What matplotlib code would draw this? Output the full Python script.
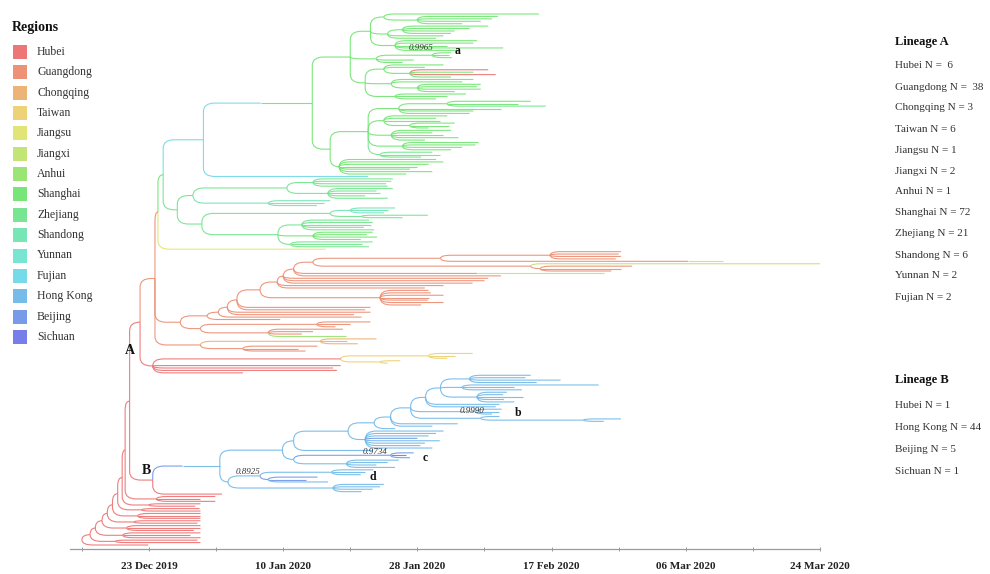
import matplotlib
matplotlib.use("Agg")
import matplotlib.pyplot as plt
from matplotlib.path import Path
from matplotlib.patches import PathPatch, Rectangle

plt.rcParams['font.family'] = ['Liberation Serif', 'DejaVu Serif']

# ---------------- legend / axis data ----------------
REGIONS = ["Hubei", "Guangdong", "Chongqing", "Taiwan", "Jiangsu", "Jiangxi", "Anhui",
           "Shanghai", "Zhejiang", "Shandong", "Yunnan", "Fujian", "Hong Kong", "Beijing", "Sichuan"]
CODES = ["HB", "GD", "CQ", "TW", "JS", "JX", "AH", "SH", "ZJ", "SD", "YN", "FJ", "HK", "BJ", "SC"]
COLORS = ["#EC7070", "#EC8C70", "#ECB070", "#ECD070", "#E0E470", "#C0E470", "#96E470",
          "#70E470", "#70E48C", "#70E4B0", "#70E4D0", "#70D8E8", "#70B8E8", "#7096E8", "#7076E8"]

TICK_DAYS = [0, 18, 36, 54, 72, 90]          # days after 23 Dec 2019
TICK_LABELS = ["23 Dec 2019", "10 Jan 2020", "28 Jan 2020", "17 Feb 2020", "06 Mar 2020", "24 Mar 2020"]
MINOR_DAYS = [-9, 9, 27, 45, 63, 81]

LINEAGE_A = ["Hubei N =  6", "Guangdong N =  38", "Chongqing N = 3", "Taiwan N = 6", "Jiangsu N = 1",
             "Jiangxi N = 2", "Anhui N = 1", "Shanghai N = 72", "Zhejiang N = 21", "Shandong N = 6",
             "Yunnan N = 2", "Fujian N = 2"]
LINEAGE_B = ["Hubei N = 1", "Hong Kong N = 44", "Beijing N = 5", "Sichuan N = 1"]

# ---------------- tree data (dates in days after 23 Dec 2019) ----------------
# internal node: [node_date, region, child, child, ...]; tip: end_date (parent region) or (region, end_date)
T1 = [29.7, "SH",
      [31.5, "SH", 52.3, [36.0, "SH", 46.8, 46.0, 44.5, 42.0]],
      [32.0, "SH", [34.0, "SH", 45.5, 43.0, 41.0, 40.5], 39.5, 38.5],
      [33.0, "SH", 44.0, 43.5, 40.0, 47.5, 41.5]]
A_SUB = [38.0, "SH", 40.5, 40.3, 40.6]
T2 = [30.5, "SH", A_SUB, 35.5, 34.0]
T3 = [29.0, "SH",
      [31.5, "SH", 39.5, 37.0, [35.0, "SH", ("HB", 45.5), 43.5, ("HB", 46.5), 40.5]],
      [32.5, "SH", 43.5, 42.0, [36.0, "SH", 44.5, 44.0, 44.5, 41.0]],
      [33.0, "SH", 42.5, 40.0, 38.5]]
GREEN_TOP = [27.0, "SH", T1, T2, T3]

M1 = [29.4, "SH",
      [33.5, "SH", [40.0, "SH", 51.2, 49.5, ("ZJ", 53.2)], 47.2, 43.5, 43.0],
      [31.5, "SH", 40.0, 38.5, 39.0, [35.0, "SH", 41.0, 40.2, 37.5]],
      [32.5, "SH", 40.5, 38.0, 39.5, 41.5, 37.0],
      [34.0, "SH", 44.2, 43.8, 42.0, 40.5],
      [31.0, "ZJ", 38.0, 39.0, 36.5]]
M2 = [25.5, "SH", 38.5, 39.5, 37.5, 36.0, 35.0, 38.0, 34.5]
GREEN_MID = [24.3, "SH", M1, M2]
N1 = [21.9, "SH", GREEN_TOP, GREEN_MID]
CYAN_NODE = [7.3, "FJ", [15.0, "FJ", N1], ("FJ", 29.4)]

LG1 = [5.9, "ZJ",
       [18.5, "ZJ", [22.0, "ZJ", 32.7, 32.5, 31.8, 32.0], [24.0, "ZJ", 32.7, 30.5, 31.0, 29.0, 32.0]],
       [16.0, "SD", 24.3, 23.5, 22.5]]
LG2 = [7.1, "ZJ",
       [24.3, "ZJ", [27.0, "SD", 33.0, 32.0, ("YN", 31.5)], [28.5, "ZJ", 37.4, 34.0]],
       [17.3, "ZJ", [20.5, "ZJ", 29.5, 30.0, 29.8, 28.8, 30.2], [22.0, "SH", 30.0, 29.2, 30.6, 28.4],
        [19.0, "ZJ", 30.0, 28.6, 29.5]]]
GREEN_ROOT = [1.9, "SH", CYAN_NODE, [3.8, "ZJ", LG1, LG2]]

GD_TOP = [22.0, "GD",
          [39.1, "GD", [53.8, "GD", 63.3, 63.0, 63.3, 62.6], [72.3, "GD", ("TW", 77.0)]],
          [51.2, "GD", ("JX", 90.2), [52.5, "GD", 64.8, 63.3, 62.0]]]
GD_SUB = [31.0, "GD", 37.5, 37.8, 39.5, 37.6, 37.4, 39.5, 36.5]
GD_L1 = [19.4, "GD", GD_TOP, [44.0, "GD", ("JX", 61.0)], 47.2]
GD_L2 = [18.0, "GD", GD_L1, 45.5, 45.0, 43.4]
GD_L3 = [17.2, "GD", GD_L2, 39.5, 37.0]
GD_L4 = [14.9, "GD", GD_L3, GD_SUB]
GD_L5 = [11.8, "GD", GD_L4, 29.7, 29.0]
GD_L6 = [10.5, "GD", GD_L5, 29.7, 27.5]
GD_L7 = [9.3, "GD", GD_L6, 28.5]
GD_L8 = [7.8, "GD", GD_L7, 17.6]
GD_LOW = [6.9, "GD", [22.5, "GD", 29.7, 27.0, 25.0], [16.0, "GD", 26.0, 22.0, 20.5, ("AH", 26.5)]]
GD_BIG = [4.2, "GD", GD_L8, GD_LOW]
CQ_CLADE = [6.9, "GD", [23.0, "CQ", 30.5, 26.5, 28.0], [12.6, "GD", 22.6, 20.0, 21.0]]

A_UPPER = [0.8, "GD", [1.2, "GD", GREEN_ROOT, ("JS", 23.7)], GD_BIG, CQ_CLADE]
A_HB = [0.5, "HB", [25.7, "HB", [37.5, "TW", 43.4, 41.0, 40.0], [31.0, "TW", 33.7, 32.0]],
        25.7, 24.7, 25.2, 12.6]
NODE_A = [-1.2, "HB", A_UPPER, A_HB]

B_TOP = [39.1, "HK", [43.0, "HK", 51.2, 50.5, 55.2, 52.0], [42.0, "HK", 60.3, 49.0, 50.0],
         [44.0, "HK", 48.0, 47.5, 50.2, 47.6, 49.0]]
B_b = [43.8, "HK", 47.3, 47.0, 46.0]
B_LONG = [44.5, "HK", 47.0, [58.3, "HK", 63.3, 61.0]]
B_LAD = [32.4, "HK", [35.1, "HK", [37.1, "HK", B_TOP, 47.0, 46.5], B_b, B_LONG], 41.4, 38.0]
B_SIDE = [29.0, "HK", 39.5, 38.5, 37.5, ("BJ", 36.0), 39.0, 37.0, 36.4, 38.0]
B_UP = [19.4, "HK", [26.7, "HK", [30.2, "HK", B_LAD, 33.0], B_SIDE], 30.0]
B_C = [32.4, "BJ", ("BJ", 35.5), ("SC", 34.5), ("BJ", 35.0)]
B_LOW1 = [19.4, "HK", B_C, [26.5, "HK", 33.5, 32.0, 30.5, 33.0]]
B_D = [14.9, "HK", [24.5, "HK", 30.1, 29.0, 28.4], [16.0, "BJ", 22.6, 21.0, ("HK", 24.0)]]
LIN_B = [9.5, "HK", [17.9, "HK", B_UP, B_LOW1], [10.6, "HK", B_D, [24.7, "HK", 31.5, 31.0, 30.0, 28.5]]]
NODE_B = [0.5, "HB", [4.5, "BJ", LIN_B], 9.8]

TOP = [-2.6, "HB", NODE_A, NODE_B]
BASAL_NODES = [-9.0, -7.9, -7.2, -6.3, -5.6, -4.9, -4.2, -3.6, -3.2]
BASAL_SIDE_NODES = [None, -4.5, -3.5, -3.0, -2.0, -1.5, -1.0, 0.0, 1.0]
BASAL_SIDE_TIPS = [[-0.1], [6.5, 6.9], [6.9, 5.5, 6.9], [6.9, 6.9, 6.0], [6.9, 6.5],
                   [6.9, 6.9, 6.9], [6.8, 6.9], [6.9, 6.2], [8.9, 6.9, 8.9]]

# assemble the basal Hubei ladder
tree = TOP
for nd, sd, tips in reversed(list(zip(BASAL_NODES, BASAL_SIDE_NODES, BASAL_SIDE_TIPS))):
    side = tips[0] if sd is None else [sd, "HB"] + list(tips)
    tree = [nd, "HB", tree, side]

# ---------------- layout ----------------
leaves = []
segs = []


def layout(node, region):
    if isinstance(node, (int, float)):
        y = len(leaves); leaves.append(node)
        return node, y, region
    if isinstance(node, tuple):
        code, d = node
        y = len(leaves); leaves.append(d)
        return d, y, code
    date, code = node[0], node[1]
    kids = [layout(c, code) for c in node[2:]]
    y = (kids[0][1] + kids[-1][1]) / 2.0
    for kx, ky, kc in kids:
        segs.append((date, y, kx, ky, kc))
    return date, y, code


layout(tree, "HB")
N = len(leaves)
col = dict(zip(CODES, COLORS))

W, H = 990, 574
fig = plt.figure(figsize=(W / 100, H / 100), dpi=100)
ax_l, ax_r, ax_t, ax_b = 70, 820, 8, 549
ax = fig.add_axes([ax_l / W, 1 - ax_b / H, (ax_r - ax_l) / W, (ax_b - ax_t) / H])

px_per_day = 134.2 / 18
x0 = -(149 - ax_l) / px_per_day
x1 = x0 + (ax_r - ax_l) / px_per_day
ax.set_xlim(x0, x1)
s = (545 - 14) / (N - 1)
t = -(14 - ax_t) / s
b = t + (ax_b - ax_t) / s
ax.set_ylim(b, t)

RX = 1.5
RY = 3.5
for px, py, cx, cy, kc in segs:
    dy = cy - py
    if abs(dy) < 1e-9:
        verts = [(px, py), (cx, cy)]
        codes = [Path.MOVETO, Path.LINETO]
    else:
        sg = 1 if dy > 0 else -1
        ry = min(abs(dy), RY)
        rx = min(cx - px, RX)
        verts = [(px, py), (px, cy - sg * ry), (px, cy), (px + rx, cy), (cx, cy)]
        codes = [Path.MOVETO, Path.LINETO, Path.CURVE3, Path.CURVE3, Path.LINETO]
    ax.add_patch(PathPatch(Path(verts, codes), fill=False, edgecolor=col[kc], lw=0.8,
                           alpha=0.9, capstyle='butt'))

for sp in ["top", "right", "left"]:
    ax.spines[sp].set_visible(False)
ax.spines["bottom"].set_color("#9a9a9a")
ax.spines["bottom"].set_linewidth(0.9)
ax.set_yticks([])
ax.set_xticks(TICK_DAYS)
ax.set_xticklabels(TICK_LABELS, fontsize=8, fontweight='bold', color="#222222")
ax.set_xticks(MINOR_DAYS, minor=True)
ax.tick_params(axis='x', which='both', direction='inout', length=3, width=0.7, color="#9a9a9a", pad=8)
ax.patch.set_alpha(0)


def ftext(x, y, s, **kw):
    fig.text(x / W, 1 - y / H, s, **kw)


# left legend
ftext(12, 28, "Regions", fontsize=10, fontweight='bold', va='center', color="#111111")
for i, (name, c) in enumerate(zip(REGIONS, COLORS)):
    yc = 52 + 20.35 * i
    fig.patches.append(Rectangle((13 / W, 1 - (yc + 7) / H), 14 / W, 14 / H, transform=fig.transFigure,
                                 facecolor=c, edgecolor='none', alpha=0.95))
    ftext(37, yc, name, fontsize=8.5, va='center', color="#333333")

# right legend
ftext(895, 42, "Lineage A", fontsize=9, fontweight='bold', va='center', color="#111111")
for i, s_ in enumerate(LINEAGE_A):
    ftext(895, 66 + 21 * i, s_, fontsize=8, va='center', color="#333333")
ftext(895, 380, "Lineage B", fontsize=9, fontweight='bold', va='center', color="#111111")
for i, s_ in enumerate(LINEAGE_B):
    ftext(895, 405 + 22 * i, s_, fontsize=8, va='center', color="#333333")

# node labels
ftext(130, 350, "A", fontsize=10, fontweight='bold', ha='center', va='center', color="#111111")
ftext(146, 471, "B", fontsize=10, fontweight='bold', ha='center', va='center', color="#111111")
for lab, (x, y) in zip(["a", "b", "c", "d"], [(458, 51), (518, 413), (425, 458), (373, 477)]):
    ftext(x, y, lab, fontsize=8.5, fontweight='bold', ha='center', va='center', color="#111111")
for lab, (x, y) in zip(["0.9965", "0.9990", "0.9734", "0.8925"], [(421, 48), (472, 411), (375, 452), (248, 472)]):
    ftext(x, y, lab, fontsize=6.5, style='italic', ha='center', va='center', color="#333333")

fig.savefig("out.png", dpi=100)
